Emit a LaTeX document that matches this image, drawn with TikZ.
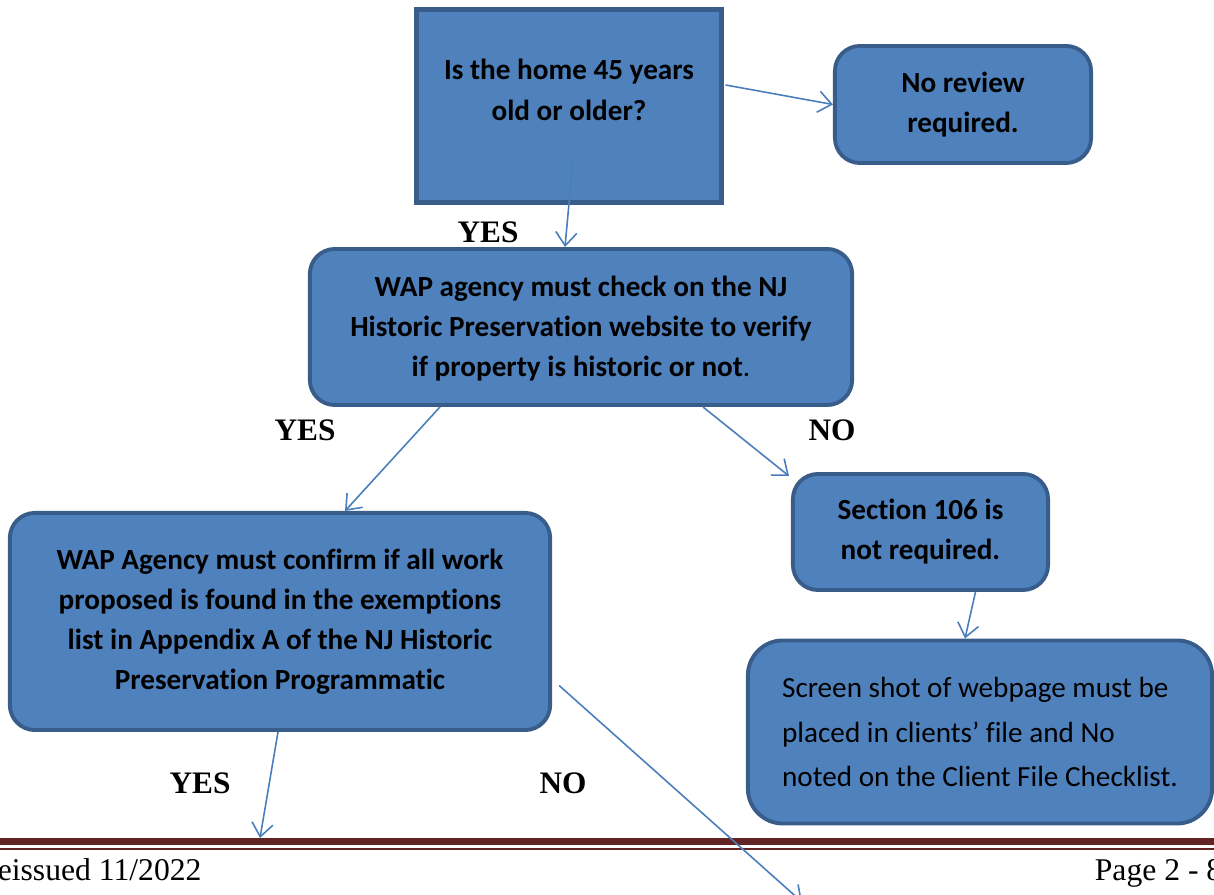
\documentclass[tikz,border=0pt]{standalone}
\usepackage{fontspec}
\setmainfont{Liberation Serif}
\newfontfamily\boxfont[Ligatures={NoCommon,NoContextual},Contextuals=NoAlternate]{Carlito}
\usetikzlibrary{arrows.meta,calc}

\definecolor{boxfill}{HTML}{4F81BD}
\definecolor{boxline}{HTML}{385D8A}
\definecolor{arrowblue}{HTML}{4A7EBB}
\definecolor{footred}{HTML}{622423}

\begin{document}
\begin{tikzpicture}[
	x=0.01cm, y=-0.01cm,
	every node/.style={align=center, font=\boxfont\bfseries\fontsize{8.3}{11.4}\selectfont},
	bluebox/.style={draw=boxline, fill=boxfill, line width=1.1pt, inner sep=0pt},
	roundbox/.style={bluebox, rounded corners=0.25cm},
	answer/.style={font=\bfseries\fontsize{8.9}{10}\selectfont, inner sep=0pt},
	flow/.style={draw=arrowblue, line width=0.45pt, -{Straight Barb[length=3.8pt,width=6pt]}}
	]
	\useasboundingbox (0,0) rectangle (1214,895);
	
	% Nodes
	\node[bluebox, line width=1.4pt, minimum width=3.04cm, minimum height=1.92cm,
		text height=10pt, text depth=2pt] (home) at (569,106)
		{Is the home 45 years\\old or older?};
	\node[roundbox, minimum width=2.56cm, minimum height=1.17cm] (noreview) at (963,104.5)
		{No review\\required.};
	\node[roundbox, minimum width=5.42cm, minimum height=1.56cm,
		text height=30pt, text depth=2pt] (check) at (581,327)
		{WAP agency must check on the NJ\\Historic Preservation website to verify\\if property is historic or not{\mdseries .}};
	\node[roundbox, minimum width=2.55cm, minimum height=1.16cm] (sec106) at (920.5,532)
		{Section 106 is\\not required.};
	\node[roundbox, minimum width=5.40cm, minimum height=2.17cm] (confirm) at (280,621.5)
		{WAP Agency must confirm if all work\\proposed is found in the exemptions\\list in Appendix A of the NJ Historic\\Preservation Programmatic};
	\node[roundbox, rounded corners=0.35cm, minimum width=4.64cm, minimum height=1.83cm,
		align=left, font=\boxfont\fontsize{8.3}{12.7}\selectfont] (screen) at (980,732)
		{Screen shot of webpage must be\\placed in clients’ file and No\\noted on the Client File Checklist.};
	
	\node[answer] (yes1) at (488,232) {YES};
	\node[answer] (yes2) at (305,430) {YES};
	\node[answer] (no2) at (832,430) {NO};
	\node[answer] (yes3) at (200,783) {YES};
	\node[answer] (no3) at (563,783) {NO};
	
	\coordinate (footyes) at (260,838);
	\coordinate (offno) at (802,902);
	
	% Footer
	\draw[footred, line width=7pt*0.2845] (0,841.5) -- (1214,841.5);
	\draw[footred, line width=0.6pt] (0,849) -- (1214,849);
	\node[font=\fontsize{9}{10}\selectfont, anchor=base west, inner sep=0pt] (issued) at (-24,881) {Reissued 11/2022};
	\node[font=\fontsize{9}{10}\selectfont, anchor=base east, inner sep=0pt] (page) at (1223,881) {Page 2 - 8};
	
	% Arrows
	\draw[flow] ($(home.east)+(2,-21)$) -- (noreview.west);
	\draw[flow] ($(home.center)+(4,54)$) -- ($(check.north)+(-16,0)$);
	\draw[flow] ($(check.south)+(-141,0)$) -- ($(confirm.north)+(65,0)$);
	\draw[flow] ($(check.south)+(122,0)$) -- ($(sec106.north west)+(-2,4)$);
	\draw[flow] ($(sec106.south)+(55,0)$) -- ($(screen.north)+(-15,0)$);
	\draw[flow] ($(confirm.south)+(-2,0)$) -- (footyes);
	\draw[flow] ($(confirm.east)+(7,64)$) -- (offno);
	
\end{tikzpicture}
\end{document}
